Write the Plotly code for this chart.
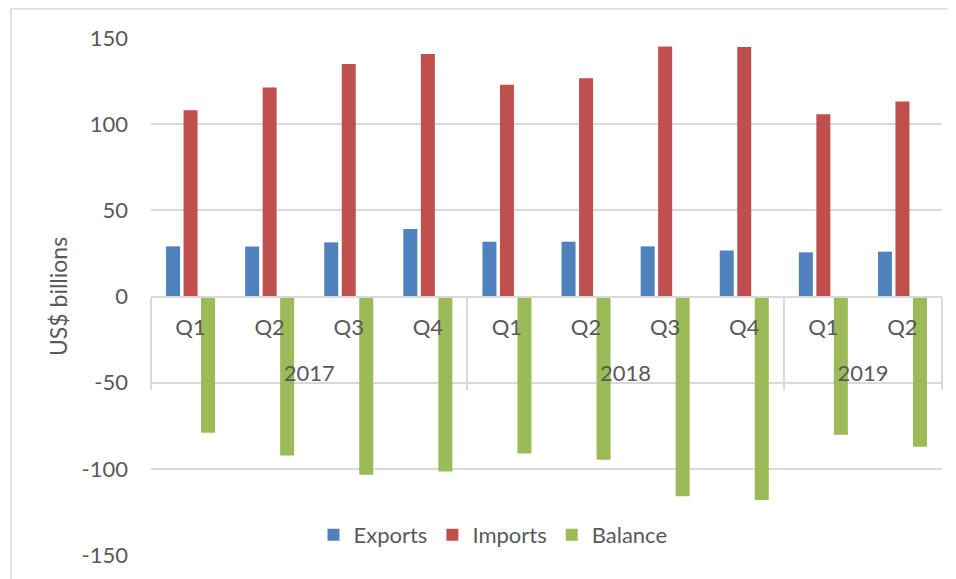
import plotly.graph_objects as go

years = ["2017", "2017", "2017", "2017", "2018", "2018", "2018", "2018", "2019", "2019"]
quarters = ["Q1", "Q2", "Q3", "Q4", "Q1", "Q2", "Q3", "Q4", "Q1", "Q2"]
exports = [29.1, 29.0, 31.4, 39.1, 31.8, 31.8, 29.1, 26.7, 25.6, 26.0]
imports = [108.1, 121.3, 134.9, 140.7, 122.9, 126.6, 145.0, 144.8, 105.8, 113.2]
balance = [-79.0, -92.3, -103.5, -101.6, -91.1, -94.8, -115.9, -118.1, -80.2, -87.2]
y_ticks = [-150, -100, -50, 0, 50, 100, 150]
y_tick_text = ["-150", "-100", "-50", "0", "50", "100", "150"]

FONT = "Lato"
FS = 22
TXT = "#595959"
GRID = "#d9d9d9"

# page body has an 8px default margin, so the figure is drawn 8px smaller
W, H = 948, 571
L, T = 143, 30
R = W - 934
B = H - 547
PW, PH = W - L - R, H - T - B

idx = list(range(len(quarters)))
year_names = sorted(set(years))
year_centers = [sum(i for i, y in zip(idx, years) if y == yn) / years.count(yn) for yn in year_names]
boundaries = [-0.5] + [i + 0.5 for i in idx[:-1] if years[i] != years[i + 1]] + [idx[-1] + 0.5]
xr = [-0.5, idx[-1] + 0.5]

fig = go.Figure()
for name, vals, col in [("Exports", exports, "#4f81bd"),
                        ("Imports", imports, "#c0504d"),
                        ("Balance", balance, "#9bbb59")]:
    fig.add_trace(go.Bar(x=idx, y=vals, name=name,
                         marker=dict(color=col, line=dict(width=0))))
# invisible carrier so the year axis is drawn
fig.add_trace(go.Scatter(x=year_centers, y=[0] * len(year_centers), xaxis="x2",
                         mode="markers", marker=dict(opacity=0), showlegend=False,
                         hoverinfo="skip"))

fig.update_layout(
    width=W, height=H,
    margin=dict(l=L, r=R, t=T, b=B, autoexpand=False),
    paper_bgcolor="white", plot_bgcolor="white",
    barmode="group", bargap=0.336, bargroupgap=0.2,
    font=dict(family=FONT, size=FS, color=TXT),
    legend=dict(orientation="h", x=(493 - 151) / 791, xanchor="center", y=0.039, yanchor="middle",
                bgcolor="rgba(0,0,0,0)", font=dict(family=FONT, size=FS, color=TXT),
                traceorder="normal"),
    xaxis=dict(range=xr, anchor="free", position=0.5,
               tickvals=idx, ticktext=quarters,
               showgrid=False, zeroline=False, showline=True, linecolor=GRID, linewidth=1.5,
               ticks="outside", ticklen=11, tickcolor="rgba(0,0,0,0)",
               tickfont=dict(family=FONT, size=FS, color=TXT), automargin=False),
    xaxis2=dict(range=xr, overlaying="x", anchor="free", position=0.5, side="bottom",
                tickvals=year_centers, ticktext=year_names,
                showgrid=False, zeroline=False, showline=False,
                ticks="outside", ticklen=57, tickcolor="rgba(0,0,0,0)",
                minor=dict(tickmode="array", tickvals=boundaries, ticks="outside",
                           ticklen=92, tickcolor=GRID, tickwidth=1.5, showgrid=False),
                tickfont=dict(family=FONT, size=FS, color=TXT), automargin=False),
    yaxis=dict(range=[-150, 150], tickvals=y_ticks, ticktext=y_tick_text,
               showgrid=True, gridcolor=GRID, gridwidth=1.5, zeroline=False, showline=False,
               ticklabelstandoff=22, tickfont=dict(family=FONT, size=FS, color=TXT),
               title=dict(text="US$ billions", standoff=7,
                          font=dict(family=FONT, size=23, color=TXT)),
               automargin=False),
    shapes=[dict(type="rect", xref="paper", yref="paper",
                 x0=(3 - L) / PW, x1=1.05, y0=-0.1, y1=1 + (T - 1) / PH,
                 line=dict(color=GRID, width=1.5), fillcolor="rgba(0,0,0,0)", layer="below")],
)

fig.write_html("out.html")
